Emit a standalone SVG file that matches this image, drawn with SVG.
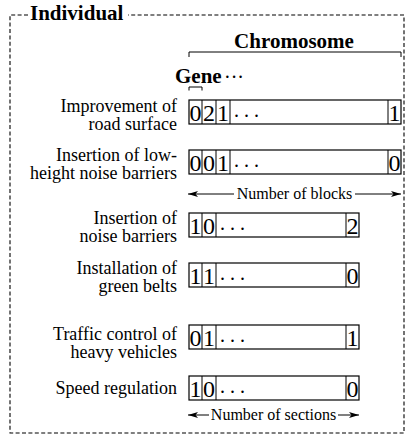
<svg xmlns="http://www.w3.org/2000/svg" width="414" height="437" viewBox="0 0 414 437">
<style>
text{font-family:"Liberation Serif","Times New Roman",serif;fill:#000}
.lbl{font-size:18px;text-anchor:end}
.bold{font-size:21px;font-weight:bold}
.dig{font-size:24px;text-anchor:middle}
.dots{font-size:20px}
.sm{font-size:16px;text-anchor:middle}
.box{fill:#fff;stroke:#000;stroke-width:1.2}
.ln{fill:none;stroke:#000;stroke-width:1}
.dash{fill:none;stroke:#000;stroke-width:1.1;stroke-dasharray:4 2.4}
</style>
<defs>
<marker id="ah" markerWidth="10" markerHeight="7" refX="10" refY="3.5" orient="auto-start-reverse" markerUnits="userSpaceOnUse">
<path d="M0,0.5 L10,3.5 L0,6.5 L2.5,3.5 z" fill="#000"/>
</marker>
</defs>
<rect width="414" height="437" fill="#fff"/>
<g id="individual">
<path class="dash" d="M28,15 H10 V433 H404 V15 H128"/>
<text class="bold" x="30" y="20">Individual</text>
</g>
<g id="chromosome">
<path class="ln" d="M189,57 V52 H401 V57"/>
<text class="bold" x="294" y="48" text-anchor="middle">Chromosome</text>
</g>
<g id="gene">
<path class="ln" d="M189,90.5 V87 H202 V90.5"/>
<text class="bold" x="175" y="83">Gene</text>
<text class="dots" x="224" y="84">···</text>
</g>
<g id="row1">
<text class="lbl" x="177" y="112">Improvement of</text>
<text class="lbl" x="177" y="129.5">road surface</text>
<rect class="box" x="189" y="100" width="212" height="24"/>
<path class="ln" d="M202,100 V124 M216,100 V124 M230,100 V124 M388,100 V124"/>
<text class="dig" x="195.5" y="120.5">0</text>
<text class="dig" x="209" y="120.5">2</text>
<text class="dig" x="223" y="120.5">1</text>
<text class="dots" x="234" y="117">. . .</text>
<text class="dig" x="394.5" y="120.5">1</text>
</g>
<g id="row2">
<text class="lbl" x="177" y="161">Insertion of low-</text>
<text class="lbl" x="177" y="178.5">height noise barriers</text>
<rect class="box" x="189" y="150" width="212" height="24"/>
<path class="ln" d="M202,150 V174 M216,150 V174 M230,150 V174 M388,150 V174"/>
<text class="dig" x="195.5" y="170.5">0</text>
<text class="dig" x="209" y="170.5">0</text>
<text class="dig" x="223" y="170.5">1</text>
<text class="dots" x="234" y="167">. . .</text>
<text class="dig" x="394.5" y="170.5">0</text>
</g>
<g id="row3">
<text class="lbl" x="177" y="224">Insertion of</text>
<text class="lbl" x="177" y="241.5">noise barriers</text>
<rect class="box" x="189" y="213" width="170" height="24"/>
<path class="ln" d="M202,213 V237 M216,213 V237 M346,213 V237"/>
<text class="dig" x="195.5" y="233.5">1</text>
<text class="dig" x="209" y="233.5">0</text>
<text class="dots" x="220" y="230">. . .</text>
<text class="dig" x="352.5" y="233.5">2</text>
</g>
<g id="row4">
<text class="lbl" x="177" y="274">Installation of</text>
<text class="lbl" x="177" y="291.5">green belts</text>
<rect class="box" x="189" y="263" width="170" height="24"/>
<path class="ln" d="M202,263 V287 M216,263 V287 M346,263 V287"/>
<text class="dig" x="195.5" y="283.5">1</text>
<text class="dig" x="209" y="283.5">1</text>
<text class="dots" x="220" y="280">. . .</text>
<text class="dig" x="352.5" y="283.5">0</text>
</g>
<g id="row5">
<text class="lbl" x="177" y="340">Traffic control of</text>
<text class="lbl" x="177" y="357.5">heavy vehicles</text>
<rect class="box" x="189" y="325" width="170" height="24"/>
<path class="ln" d="M202,325 V349 M216,325 V349 M346,325 V349"/>
<text class="dig" x="195.5" y="345.5">0</text>
<text class="dig" x="209" y="345.5">1</text>
<text class="dots" x="220" y="342">. . .</text>
<text class="dig" x="352.5" y="345.5">1</text>
</g>
<g id="row6">
<text class="lbl" x="177" y="394">Speed regulation</text>
<rect class="box" x="189" y="376" width="170" height="24"/>
<path class="ln" d="M202,376 V400 M216,376 V400 M346,376 V400"/>
<text class="dig" x="195.5" y="396.5">1</text>
<text class="dig" x="209" y="396.5">0</text>
<text class="dots" x="220" y="393">. . .</text>
<text class="dig" x="352.5" y="396.5">0</text>
</g>
<g id="connectors">
<line class="ln" x1="234" y1="194" x2="188" y2="194" marker-end="url(#ah)"/>
<line class="ln" x1="355" y1="194" x2="401" y2="194" marker-end="url(#ah)"/>
<line class="ln" x1="209" y1="415" x2="188" y2="415" marker-end="url(#ah)"/>
<line class="ln" x1="338" y1="415" x2="359" y2="415" marker-end="url(#ah)"/>
</g>
<text class="sm" x="294.5" y="199">Number of blocks</text>
<text class="sm" x="273.5" y="420">Number of sections</text>
</svg>
